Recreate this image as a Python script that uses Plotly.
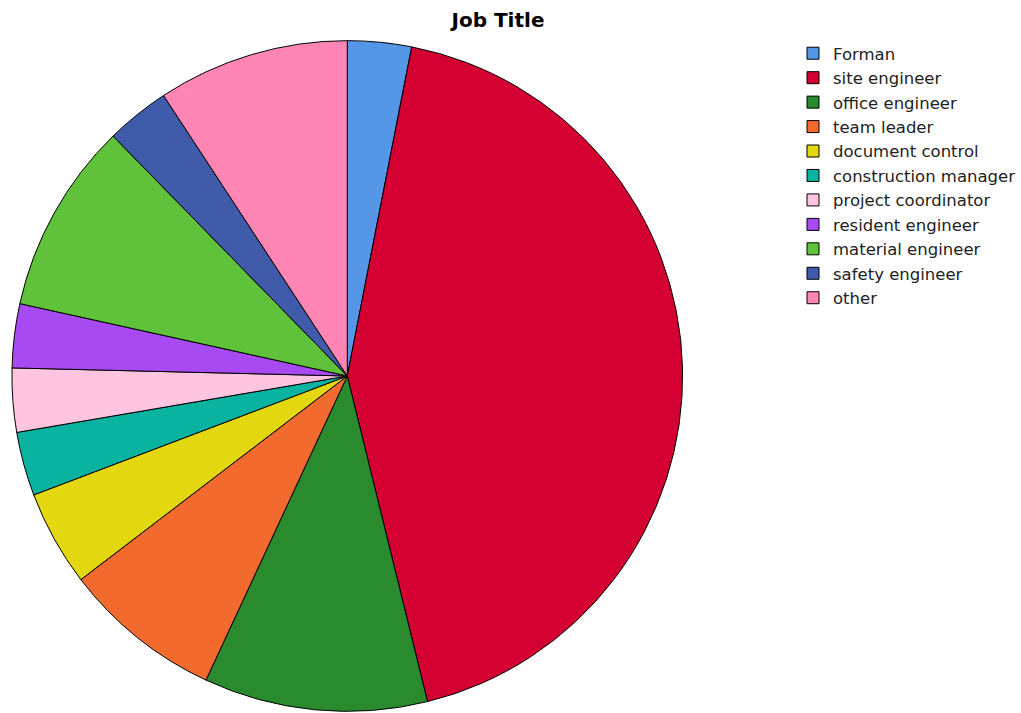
import plotly.graph_objects as go

categories = ["Forman", "site engineer", "office engineer", "team leader", "document control",
              "construction manager", "project coordinator", "resident engineer",
              "material engineer", "safety engineer", "other"]
counts = [2, 28, 7, 5, 3, 2, 2, 2, 6, 2, 6]
colors = ["#5596e6", "#d50032", "#298a2e", "#f26a2e", "#e3d70f", "#0ab3a0",
          "#ffc4e0", "#a84af2", "#5fc23a", "#3f5ba9", "#ff85b4"]

W, H = 1021, 713
fig = go.Figure(go.Pie(
    labels=categories, values=counts, sort=False, direction="clockwise", rotation=0,
    marker=dict(colors=colors, line=dict(color="#000000", width=1)),
    textinfo="none", hoverinfo="label+value+percent",
    domain=dict(x=[12 / W, 686 / W], y=[0, 1 - 39 / H]),
))
fig.update_layout(
    width=W, height=H, margin=dict(l=0, r=0, t=0, b=0),
    paper_bgcolor="white", plot_bgcolor="white",
    font=dict(family="DejaVu Sans, Arial, sans-serif", color="#000000"),
    title=dict(text="<b>Job Title</b>", x=498 / W, xanchor="center", y=1 - 20 / H, yanchor="middle",
               font=dict(size=20, color="#000000", family="DejaVu Sans, Arial, sans-serif")),
    legend=dict(x=797 / W, xanchor="left", y=1 - 36 / H, yanchor="top",
                font=dict(size=16.5, color="#222222"), bgcolor="rgba(0,0,0,0)", traceorder="normal"),
)
fig.write_html("out.html", config={"displayModeBar": False},
               post_script="document.body.style.margin='0';document.body.style.overflow='hidden';")
